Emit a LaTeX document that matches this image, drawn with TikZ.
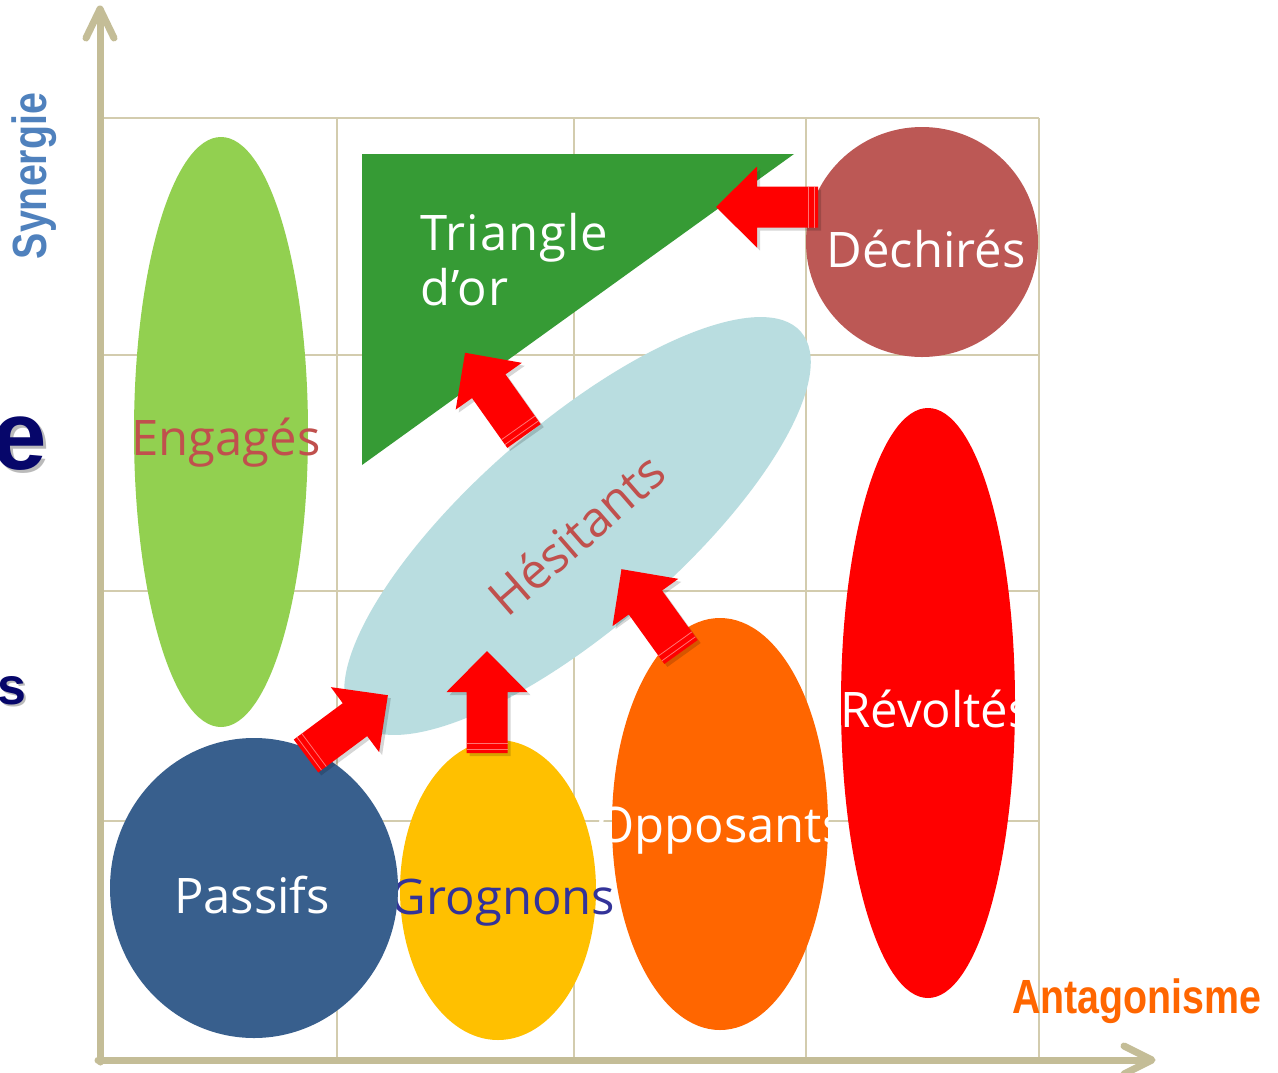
\documentclass[tikz,border=0pt]{standalone}
\usepackage{fontspec}
\setmainfont{Open Sans}
\newfontfamily\widefont{Open Sans}[LetterSpace=2]
\newfontfamily\axisfont{Liberation Sans}[FakeStretch=0.82]
\newfontfamily\heavyfont{Liberation Sans}
\definecolor{axistan}{HTML}{C4BD97}
\definecolor{gridtan}{HTML}{D3CCAE}
\definecolor{engagegreen}{HTML}{92D050}
\definecolor{goldgreen}{HTML}{369B35}
\definecolor{torn}{HTML}{BC5855}
\definecolor{hesitblue}{HTML}{B9DDE0}
\definecolor{opporange}{HTML}{FF6600}
\definecolor{grumble}{HTML}{FFC000}
\definecolor{passiveblue}{HTML}{385F8D}
\definecolor{brick}{HTML}{C0504D}
\definecolor{grumbletext}{HTML}{333399}
\definecolor{synblue}{HTML}{4F81BD}
\definecolor{navy}{HTML}{06066A}
\begin{document}
\begin{tikzpicture}[x=1pt,y=-1pt,
  gridline/.style={draw=gridtan, line width=1.8pt},
  axisline/.style={draw=axistan, line width=7pt, line cap=round, line join=round},
  lbl/.style={font=\fontsize{49}{55}\selectfont, inner sep=0pt},
  widelbl/.style={font=\widefont\fontsize{49}{55}\selectfont, inner sep=0pt},
  axislbl/.style={font=\axisfont\bfseries\fontsize{48}{50}\selectfont, inner sep=0pt},
  sidelbl/.style={font=\heavyfont\bfseries, text=navy, inner sep=0pt, anchor=base east},
  sideshadow/.style={font=\heavyfont\bfseries, text=black!45, opacity=0.6, inner sep=0pt, anchor=base east},
  stripe/.style={draw=red!55!white, line width=0.8pt},
  arrowshade/.pic={
    \fill[pic actions] (0,-20.5) -- (61,-20.5) -- (61,-40.5) -- (102,0)
      -- (61,40.5) -- (61,20.5) -- (0,20.5) -- cycle;
  },
  arrowbody/.pic={
    \fill[pic actions] (0,-20.5) -- (61,-20.5) -- (61,-40.5) -- (102,0)
      -- (61,40.5) -- (61,20.5) -- (0,20.5) -- cycle;
    \draw[stripe] (4,-20.5) -- (4,20.5) (10,-20.5) -- (10,20.5);
  }
]
\useasboundingbox (0,0) rectangle (1278,1072);
\fill[white] (0,0) rectangle (1278,1072);

% grid
\draw[gridline] (104,118) -- (1039,118);
\draw[gridline] (104,355) -- (1039,355);
\draw[gridline] (104,591) -- (1039,591);
\draw[gridline] (104,821) -- (1039,821);
\foreach \gx in {337,574,806,1039}
  \draw[gridline] (\gx,118) -- (\gx,1060);

% axes
\draw[axisline] (100,1062) -- (100,10);
\draw[axisline] (86,38) -- (100,9) -- (114,38);
\draw[axisline] (98,1060) -- (1150,1060);
\draw[axisline] (1124,1046) -- (1152,1060) -- (1124,1074);

\node[axislbl, text=synblue, rotate=90] (synergie) at (34,176) {Synergie};
\node[axislbl, text=opporange, anchor=base west] (antagonisme) at (1012,1013) {Antagonisme};

% side fragments
\node[sideshadow, font=\heavyfont\bfseries\fontsize{98}{100}\selectfont] (eshadow) at (50,472) {e};
\node[sidelbl, font=\heavyfont\bfseries\fontsize{98}{100}\selectfont] (eletter) at (47,469) {e};
\node[sideshadow, font=\heavyfont\bfseries\fontsize{52}{54}\selectfont] (sshadow) at (29,706) {s};
\node[sidelbl, font=\heavyfont\bfseries\fontsize{52}{54}\selectfont] (sletter) at (27,704) {s};

% groups
\fill[engagegreen] (221,432) ellipse [x radius=87, y radius=295];
\node[lbl, text=brick, anchor=base] (engages) at (226,455) {Engagés};

\fill[goldgreen] (362,154) -- (794,154) -- (362,465) -- cycle;
\node[widelbl, text=white, anchor=base west] (triangle) at (420,250) {Triangle};
\node[widelbl, text=white, anchor=base west] (dor) at (420,305) {d’or};

\fill[torn] (922,242) ellipse [x radius=116, y radius=115];
\node[lbl, text=white, anchor=base] (dechires) at (926,267) {Déchirés};

\fill[hesitblue, rotate around={41:(577.5,526)}] (577.5,526) ellipse [x radius=296, y radius=102];
\node[lbl, text=brick, rotate=41] (hesitants) at (576,534) {Hésitants};

\fill[red] (928,703) ellipse [x radius=87, y radius=295];
\node[lbl, text=white, anchor=base] (revoltes) at (936,727) {Révoltés};

\fill[opporange] (720,824) ellipse [x radius=108, y radius=206];
\node[lbl, text=white, anchor=base] (opposants) at (721,842) {Opposants};

\fill[grumble] (498,890) ellipse [x radius=98, y radius=150];
\node[lbl, text=grumbletext, anchor=base] (grognons) at (503,914) {Grognons};

\fill[passiveblue] (254,888) ellipse [x radius=144, y radius=150];
\node[lbl, text=white, anchor=base] (passifs) at (252,913) {Passifs};

% moves between groups
\foreach \ax/\ay/\ang/\nm in {306/756/36.6/pa, 487/753/90/gr, 524/436/125.3/he, 681/652/125.7/op, 818/207/180/de} {
  \begin{scope}[xshift=3pt, yshift=-3pt]
    \pic[fill=black, opacity=0.16, rotate=\ang] (shade\nm) at (\ax,\ay) {arrowshade};
  \end{scope}
  \pic[fill=red, rotate=\ang] (move\nm) at (\ax,\ay) {arrowbody};
}
\end{tikzpicture}
\end{document}
